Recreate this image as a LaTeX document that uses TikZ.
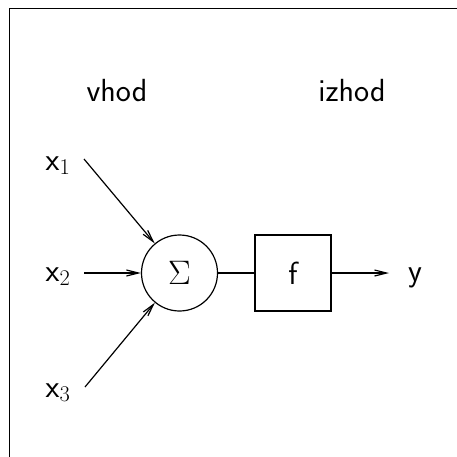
\RequirePackage{fix-cm}
\documentclass[tikz,border=0pt]{standalone}
\usepackage{fontspec}
\usetikzlibrary{arrows.meta}
\begin{document}
\begin{tikzpicture}[x=1pt,y=-1pt,
  lbl/.style={font=\fontsize{32}{36}\selectfont\sffamily, inner sep=0pt},
  arr/.style={line width=1.2pt, -{Straight Barb[length=12pt,width=6pt,line width=1.2pt]}},
  ln/.style={line width=1.2pt}]
\useasboundingbox (0,0) rectangle (456,457);
\draw[line width=1pt] (9,470) -- (9,9) -- (470,9);
\node[lbl] (vhod) at (117,91) {vhod};
\node[lbl] (izhod) at (352,91) {izhod};
\node[lbl, anchor=base] (x1) at (58,170) {x$_1$};
\node[lbl, anchor=base] (x2) at (58,281) {x$_2$};
\node[lbl, anchor=base] (x3) at (58,397) {x$_3$};
\node[lbl, anchor=base] (y) at (415,281) {y};
\node[circle, draw, line width=1.2pt, minimum size=76pt, inner sep=0pt] (sum) at (179.5,273) {\fontsize{34}{36}\selectfont$\Sigma$};
\node[draw, line width=1.2pt, minimum width=76pt, minimum height=76pt, inner sep=0pt, lbl] (f) at (293,273) {f};
\coordinate (s1) at (84,159);
\coordinate (s2) at (84,273);
\coordinate (s3) at (85,387);
\coordinate (e) at (389,273);
\draw[arr] (s1) -- (sum);
\draw[arr] (s2) -- (sum);
\draw[arr] (s3) -- (sum);
\draw[ln] (sum) -- (f);
\draw[arr] (f) -- (e);
\end{tikzpicture}
\end{document}
